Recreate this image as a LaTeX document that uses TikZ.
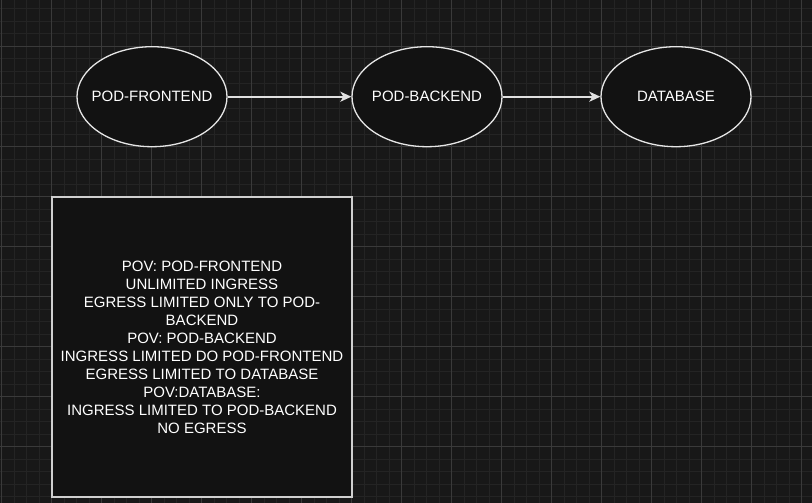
\documentclass[tikz,border=0pt]{standalone}
\usepackage{fontspec}
\setmainfont{Liberation Sans}
\usetikzlibrary{shapes.geometric,arrows.meta}
\definecolor{bgc}{HTML}{181818}
\definecolor{minorc}{HTML}{242424}
\definecolor{majorc}{HTML}{3A3A3A}
\definecolor{fillc}{HTML}{121212}
\definecolor{strokec}{HTML}{E6E6E6}
\definecolor{boxstroke}{HTML}{CFCFCF}
\definecolor{arrowc}{HTML}{E0E0E0}
\tikzset{
  minorgrid/.style={draw=minorc, line width=1pt},
  majorgrid/.style={draw=majorc, line width=1pt},
  podnode/.style={ellipse, draw=strokec, fill=fillc, line width=1.3pt,
    minimum width=150pt, minimum height=100pt, inner sep=0pt,
    text=white, font=\fontsize{15}{18}\selectfont},
  notebox/.style={rectangle, draw=boxstroke, fill=fillc, line width=1.3pt,
    minimum width=300pt, minimum height=300pt, inner sep=0pt,
    text=white, align=center, font=\fontsize{15}{18}\selectfont},
  flow/.style={draw=arrowc, line width=1.8pt,
    -{Stealth[length=11pt, width=10pt, inset=3pt]}},
}
\begin{document}
\begin{tikzpicture}[x=1pt, y=-1pt]
\useasboundingbox (0,0) rectangle (812,503);
\fill[bgc] (0,0) rectangle (812,503);
\foreach \i in {0,...,64} {\draw[minorgrid] ({1.5+12.5*\i},0) -- ++(0,503);}
\foreach \i in {0,...,39} {\draw[minorgrid] (0,{9+12.5*\i}) -- ++(812,0);}
\foreach \i in {0,...,16} {\draw[majorgrid] ({1.5+50*\i},0) -- ++(0,503);}
\foreach \i in {0,...,9} {\draw[majorgrid] (0,{-3.5+50*\i}) -- ++(812,0);}

\node[podnode] (fe) at (152,96.7) {\makebox[0pt]{POD-FRONTEND}};
\node[podnode] (be) at (427,96.7) {\makebox[0pt]{POD-BACKEND}};
\node[podnode] (db) at (676,96.7) {\makebox[0pt]{DATABASE}};
\draw[flow] (fe) -- (be);
\draw[flow] (be) -- (db);

\node[notebox] (note) at (202,347) {POV: POD-FRONTEND\\UNLIMITED INGRESS\\EGRESS LIMITED ONLY TO POD-\\BACKEND\\POV: POD-BACKEND\\INGRESS LIMITED DO POD-FRONTEND\\EGRESS LIMITED TO DATABASE\\POV:DATABASE:\\INGRESS LIMITED TO POD-BACKEND\\NO EGRESS};
\end{tikzpicture}
\end{document}
